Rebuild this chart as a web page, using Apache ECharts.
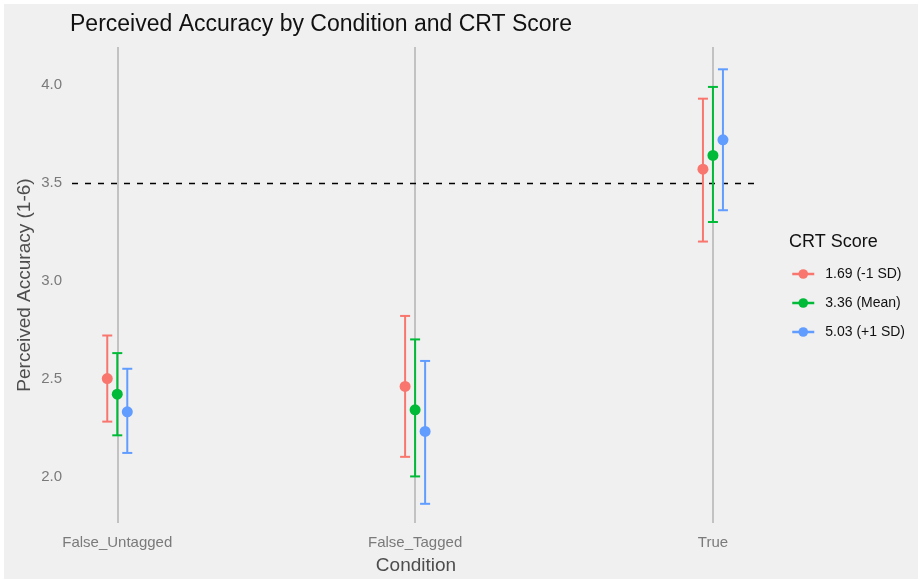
<!DOCTYPE html>
<html>
<head>
<meta charset="utf-8">
<script src="https://cdn.jsdelivr.net/npm/echarts@6/dist/echarts.min.js"></script>
<style>
  html, body { margin: 0; padding: 0; background: #ffffff; }
  #bg { position: absolute; left: 4px; top: 4px; width: 914px; height: 575px; background: #f0f0f0; }
  #main { position: absolute; left: 0; top: 0; width: 920px; height: 580px; }
</style>
</head>
<body>
<div id="bg"></div>
<div id="main"></div>
<script>
var categories = ['False_Untagged', 'False_Tagged', 'True'];
var groupNames = ['1.69 (-1 SD)', '3.36 (Mean)', '5.03 (+1 SD)'];
var colors = ['#F8766D', '#00BA38', '#619CFF'];

// estimated means and confidence limits per CRT group
var meanLow = [2.50, 2.46, 3.57];
var lowerLow = [2.28, 2.10, 3.20];
var upperLow = [2.72, 2.82, 3.93];

var meanMid = [2.42, 2.34, 3.64];
var lowerMid = [2.21, 2.00, 3.30];
var upperMid = [2.63, 2.70, 3.99];

var meanHigh = [2.33, 2.23, 3.72];
var lowerHigh = [2.12, 1.86, 3.36];
var upperHigh = [2.55, 2.59, 4.08];

var yTicks = [2.0, 2.5, 3.0, 3.5, 4.0];
var refLine = 3.5;

var means = [meanLow, meanMid, meanHigh];
var lowers = [lowerLow, lowerMid, lowerHigh];
var uppers = [upperLow, upperMid, upperHigh];
var dodge = [-0.0336, 0, 0.0336];

function renderErrorBar(params, api) {
	var x = api.value(0);
	var top = api.coord([x, api.value(2)]);
	var bottom = api.coord([x, api.value(1)]);
	var half = 5;
	var style = { stroke: api.visual('color'), lineWidth: 2 };
	return {
		type: 'group',
		children: [
			{ type: 'line', shape: { x1: top[0], y1: top[1], x2: bottom[0], y2: bottom[1] }, style: style },
			{ type: 'line', shape: { x1: top[0] - half, y1: top[1], x2: top[0] + half, y2: top[1] }, style: style },
			{ type: 'line', shape: { x1: bottom[0] - half, y1: bottom[1], x2: bottom[0] + half, y2: bottom[1] }, style: style }
		]
	};
}

var series = [];
// vertical grid lines (below everything)
series.push({
	type: 'line',
	data: [],
	silent: true,
	z: 0,
	markLine: {
		silent: true,
		symbol: 'none',
		z: 0,
		label: { show: false },
		lineStyle: { color: '#c2c2c2', width: 2, type: 'solid' },
		data: [{ xAxis: 1 }, { xAxis: 2 }, { xAxis: 3 }]
	}
});
// dashed reference line at 3.5
series.push({
	type: 'line',
	data: [],
	silent: true,
	z: 1,
	markLine: {
		silent: true,
		symbol: 'none',
		z: 1,
		label: { show: false },
		lineStyle: { color: '#000000', width: 1.3, type: [6, 7] },
		data: [{ yAxis: refLine }]
	}
});

for (var g = 0; g < 3; g++) {
	var pts = [];
	var bars = [];
	for (var c = 0; c < categories.length; c++) {
		pts.push([c + 1 + dodge[g], means[g][c]]);
		bars.push([c + 1 + dodge[g], lowers[g][c], uppers[g][c]]);
	}
	series.push({
		name: groupNames[g],
		type: 'line',
		data: pts,
		symbol: 'circle',
		symbolSize: 11,
		lineStyle: { width: 0 },
		itemStyle: { color: colors[g] },
		z: 4
	});
	series.push({
		name: groupNames[g],
		type: 'custom',
		renderItem: renderErrorBar,
		data: bars,
		itemStyle: { color: colors[g] },
		encode: { x: 0, y: [1, 2] },
		z: 3
	});
}

var option = {
	animation: false,
	textStyle: { fontFamily: 'Liberation Sans, Arial, sans-serif' },
	title: [
		{
			text: 'Perceived Accuracy by Condition and CRT Score',
			left: 65,
			top: 8,
			textStyle: { fontSize: 23, fontWeight: 'normal', color: '#111111' }
		},
		{
			text: 'CRT Score',
			left: 784,
			top: 228,
			textStyle: { fontSize: 18, fontWeight: 'normal', color: '#111111' }
		}
	],
	legend: {
		data: groupNames,
		orient: 'vertical',
		left: 786,
		top: 262,
		itemWidth: 22,
		itemHeight: 12,
		itemGap: 15,
		lineStyle: { width: 2.5 },
		textStyle: { fontSize: 14, color: '#111111', padding: [0, 0, 0, 6] }
	},
	grid: { left: 72, right: 160, top: 47, bottom: 53 },
	xAxis: {
		type: 'value',
		min: 0.848,
		max: 3.158,
		name: 'Condition',
		nameLocation: 'middle',
		nameGap: 33,
		nameTextStyle: { fontSize: 19, color: '#4d4d4d' },
		axisLine: { show: false },
		axisTick: { show: false },
		splitLine: { show: false },
		axisLabel: {
			customValues: [1, 2, 3],
			margin: 12,
			fontSize: 15,
			color: '#7a7a7a',
			formatter: function (v) { return categories[Math.round(v) - 1]; }
		}
	},
	yAxis: {
		type: 'value',
		min: 1.762,
		max: 4.194,
		name: 'Perceived Accuracy (1-6)',
		nameLocation: 'middle',
		nameGap: 38,
		nameMoveOverlap: false,
		nameTextStyle: { fontSize: 19, color: '#4d4d4d' },
		axisLine: { show: false },
		axisTick: { show: false },
		splitLine: { show: false },
		axisLabel: {
			customValues: yTicks,
			margin: 10,
			fontSize: 15,
			color: '#7a7a7a',
			formatter: function (v) { return v.toFixed(1); }
		}
	},
	series: series
};

var chart = echarts.init(document.getElementById('main'));
chart.setOption(option);
</script>
</body>
</html>
